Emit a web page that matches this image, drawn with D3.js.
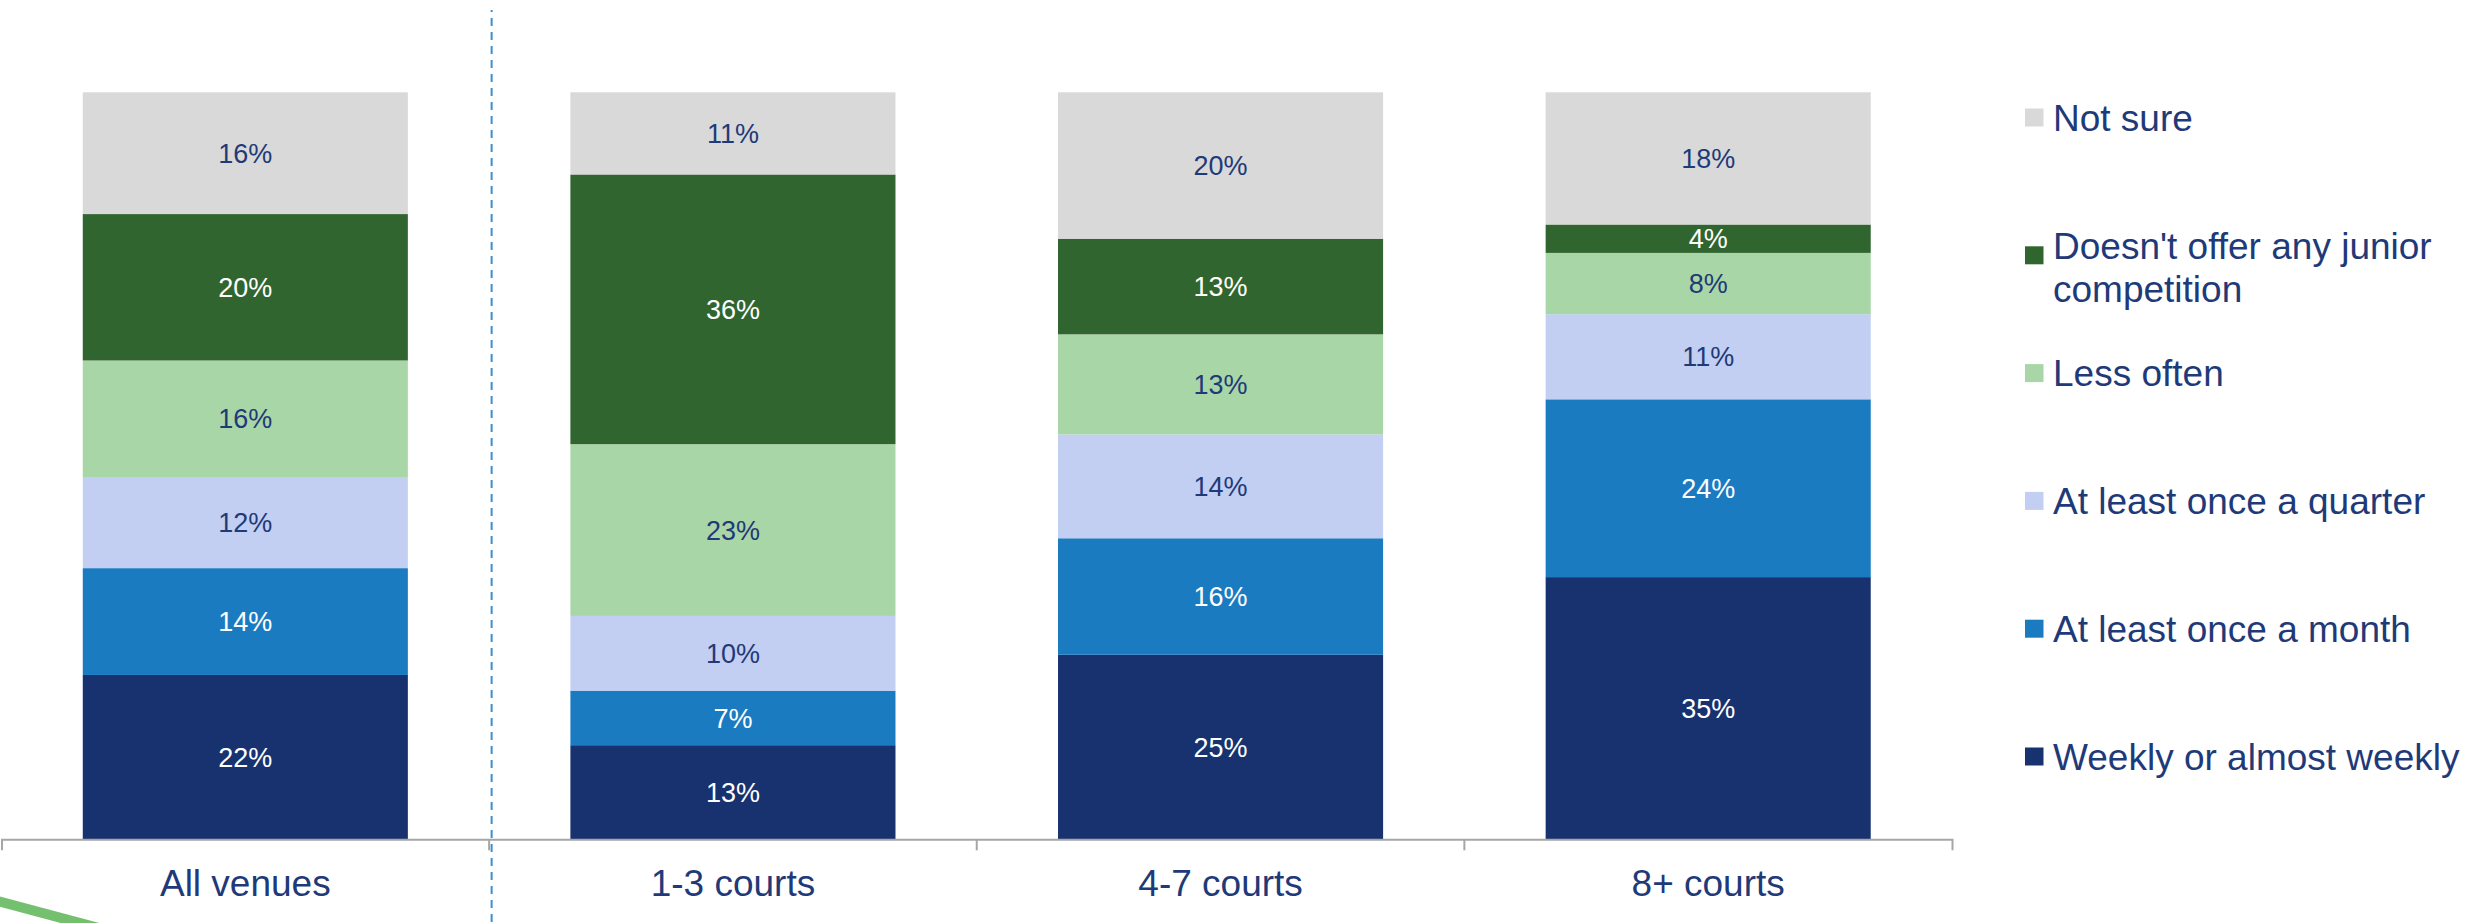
<!DOCTYPE html>
<html>
<head>
<meta charset="utf-8">
<script src="https://cdn.jsdelivr.net/npm/d3@7"></script>
<style>
  body { margin: 0; background: #fff; }
  svg { display: block; font-family: "Liberation Sans", Arial, sans-serif; }
</style>
</head>
<body>
<svg width="2466" height="923"></svg>
<script>
// categories along the x axis
var categories = ['All venues', '1-3 courts', '4-7 courts', '8+ courts'];

// series, bottom of the stack first
var seriesNames = ['Weekly or almost weekly', 'At least once a month', 'At least once a quarter',
  'Less often', "Doesn't offer any junior competition", 'Not sure'];

// % of venues per category, same order as categories
var weekly    = [22.0, 12.6, 24.7, 35.1];
var monthly   = [14.3,  7.3, 15.6, 23.8];
var quarterly = [12.2, 10.0, 13.9, 11.4];
var lessOften = [15.6, 23.0, 13.4,  8.2];
var noJunior  = [19.6, 36.1, 12.8,  3.8];
var notSure   = [16.3, 11.0, 19.6, 17.7];

var seriesValues = [weekly, monthly, quarterly, lessOften, noJunior, notSure];
var colors = ['#17326f', '#1b7bc1', '#c2cff2', '#a9d6a6', '#31652f', '#d9d9d9'];
var labelColors = ['#fff', '#fff', '#1f3a78', '#1f3a78', '#fff', '#1f3a78'];
var navy = '#1f3a78';

var svg = d3.select('svg');
var margin = {left: 1.5, right: 1952, top: 92.3, bottom: 839.3};

// table for the stack
var table = categories.map(function(c, i) {
  var row = {cat: c};
  seriesNames.forEach(function(s, j) { row[s] = seriesValues[j][i]; });
  return row;
});
var stacked = d3.stack().keys(seriesNames)(table);

var x = d3.scaleBand()
  .domain(categories)
  .range([margin.left, margin.right])
  .paddingInner(1 / 3)
  .paddingOuter(1 / 6);

var y = d3.scaleLinear()
  .domain([0, 100])
  .range([margin.bottom, margin.top]);

// bars
var layers = svg.selectAll('g.layer')
  .data(stacked)
  .enter().append('g')
  .attr('class', 'layer')
  .attr('fill', function(d, i) { return colors[i]; });

layers.selectAll('rect')
  .data(function(d) { return d; })
  .enter().append('rect')
  .attr('x', function(d) { return x(d.data.cat); })
  .attr('width', x.bandwidth())
  .attr('y', function(d) { return y(d[1]); })
  .attr('height', function(d) { return y(d[0]) - y(d[1]); });

// value labels
layers.selectAll('text')
  .data(function(d) { return d; })
  .enter().append('text')
  .attr('x', function(d) { return x(d.data.cat) + x.bandwidth() / 2; })
  .attr('y', function(d) { return (y(d[0]) + y(d[1])) / 2 + 27 * 0.36; })
  .attr('text-anchor', 'middle')
  .attr('font-size', 27)
  .attr('fill', function() { return labelColors[seriesNames.indexOf(d3.select(this.parentNode).datum().key)]; })
  .text(function(d) { return Math.round(d[1] - d[0]) + '%'; });

// x axis
var xAxis = d3.axisBottom(x).tickSizeInner(0).tickSizeOuter(11).tickPadding(30.4);
var gx = svg.append('g')
  .attr('transform', 'translate(0,' + margin.bottom + ')')
  .call(xAxis);
gx.select('.domain').attr('stroke', '#a6a6a6').attr('stroke-width', 2);
gx.selectAll('text')
  .attr('font-size', 37)
  .attr('font-family', '"Liberation Sans", Arial, sans-serif')
  .attr('fill', navy);

// tick marks between categories
var gap = x.step() - x.bandwidth();
gx.selectAll('line.sep')
  .data(categories.slice(1))
  .enter().append('line')
  .attr('class', 'sep')
  .attr('x1', function(d) { return x(d) - gap / 2; })
  .attr('x2', function(d) { return x(d) - gap / 2; })
  .attr('y1', 0)
  .attr('y2', 11)
  .attr('stroke', '#a6a6a6')
  .attr('stroke-width', 2);

// dashed divider after "All venues"
var divX = x(categories[1]) - gap / 2 + 2.5;
svg.append('line')
  .attr('x1', divX).attr('x2', divX)
  .attr('y1', 10).attr('y2', 923)
  .attr('stroke', '#3c8fd2')
  .attr('stroke-width', 2)
  .attr('stroke-dasharray', '8,6')
  .attr('stroke-dashoffset', 6);

// green swoosh in the corner
svg.append('path')
  .attr('d', d3.line()([[-10, 899], [110, 931]]))
  .attr('stroke', '#74c06f')
  .attr('stroke-width', 10)
  .attr('fill', 'none');

// legend, top entry first
var legendX = 2025, legendTop = 117.5, legendStep = 127.8, fs = 37, lineH = 43.4;
var legendOrder = seriesNames.map(function(s, i) { return i; }).reverse();

var legend = svg.append('g');
legendOrder.forEach(function(si, k) {
  var cy = legendTop + k * legendStep;
  var t = legend.append('text')
    .attr('x', legendX + 28)
    .attr('y', cy + fs * 0.36)
    .attr('font-size', fs)
    .attr('fill', navy);

  // word wrap
  var words = seriesNames[si].split(' ');
  var line = [];
  var tspan = t.append('tspan').attr('x', legendX + 28);
  var lines = 1;
  words.forEach(function(w) {
    line.push(w);
    tspan.text(line.join(' '));
    if (tspan.node().getComputedTextLength() > 420 && line.length > 1) {
      line.pop();
      tspan.text(line.join(' '));
      line = [w];
      tspan = t.append('tspan').attr('x', legendX + 28).attr('dy', lineH).text(w);
      lines++;
    }
  });

  legend.append('rect')
    .attr('x', legendX)
    .attr('y', cy - 9 + (lines - 1) * 10)
    .attr('width', 18.5)
    .attr('height', 18)
    .attr('fill', colors[si]);
});
</script>
</body>
</html>
